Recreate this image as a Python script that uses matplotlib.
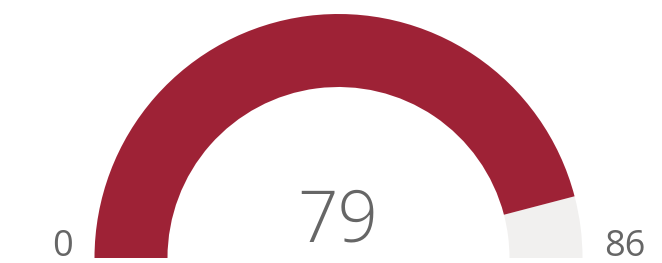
import matplotlib
matplotlib.use("Agg")
import matplotlib.pyplot as plt
from matplotlib.patches import Wedge

value = 79
min_value = 0
max_value = 86
min_label = "0"
max_label = "86"
value_label = "79"

W, H = 662, 263
fig = plt.figure(figsize=(W / 100, H / 100), dpi=100)
ax = fig.add_axes([0, 0, 1, 1])
ax.set_xlim(0, W)
ax.set_ylim(0, H)
ax.axis("off")

cx, cy = 338.5, 263 - 258
r_out = 244
width = 73

frac = (value - min_value) / (max_value - min_value)
split = 180 - 180 * frac
ax.add_patch(Wedge((cx, cy), r_out, 0, split, width=width, facecolor="#F1F0EF", edgecolor="none"))
ax.add_patch(Wedge((cx, cy), r_out, split, 180, width=width, facecolor="#9E2236", edgecolor="none"))

font = ["Open Sans", "DejaVu Sans"]
ax.text(63, 263 - 256, min_label, ha="center", va="baseline", fontsize=26, color="#666666", family=font)
ax.text(625, 263 - 256, max_label, ha="center", va="baseline", fontsize=26, color="#666666", family=font)
ax.text(338, 263 - 241, value_label, ha="center", va="baseline", fontsize=51, color="#666666", family=font, fontweight="light")

fig.savefig("out.png", dpi=100)
